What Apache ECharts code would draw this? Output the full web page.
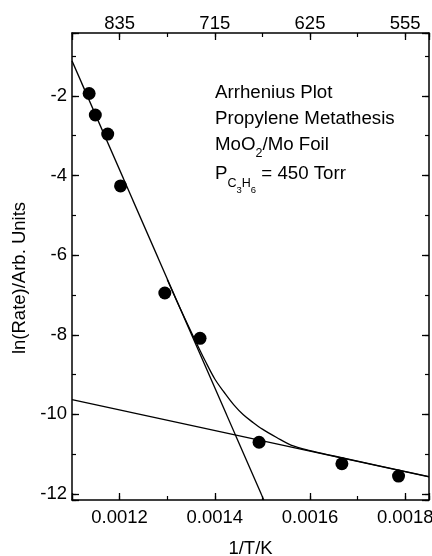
<!DOCTYPE html>
<html><head><meta charset="utf-8">
<script src="https://cdn.jsdelivr.net/npm/echarts@6/dist/echarts.min.js"></script>
<style>html,body{margin:0;padding:0;background:#fff}#c{width:432px;height:556px}</style>
</head><body><div id="c"></div>
<script>
// measured points
const invT = [0.001136, 0.001149, 0.001175, 0.001202, 0.001295, 0.001369, 0.001493, 0.001667, 0.001786];
const lnRate = [-1.94, -2.48, -2.96, -4.26, -6.95, -8.09, -10.70, -11.24, -11.55];
// fitted straight lines (endpoints)
const steepX = [0.0011, 0.001503];
const steepY = [-1.12, -12.15];
const shallowX = [0.0011, 0.00185];
const shallowY = [-9.63, -11.57];
// combined curve
const curveX = [0.0013, 0.00133, 0.00136, 0.00138, 0.0014, 0.00142, 0.00144, 0.00146, 0.00148, 0.0015, 0.00153, 0.00156, 0.0016, 0.00165, 0.00175, 0.00185];
const curveY = [-6.61, -7.41, -8.17, -8.66, -9.11, -9.45, -9.76, -10.01, -10.20, -10.37, -10.58, -10.77, -10.91, -11.045, -11.305, -11.565];
// tick labels
const xTickValues = [0.0012, 0.0014, 0.0016, 0.0018];
const xTickLabels = ['0.0012', '0.0014', '0.0016', '0.0018'];
const topTickLabels = ['835', '715', '625', '555'];
const yTickValues = [-12, -10, -8, -6, -4, -2];
const yTickLabels = ['-12', '-10', '-8', '-6', '-4', '-2'];

const FONT = 'Liberation Sans, Arial, sans-serif';
const X_MIN = 0.0011, X_MAX = 0.00185, Y_MIN = -12.15, Y_MAX = -0.42;

function lookup(vals, labels) {
  return function (v) {
    for (let i = 0; i < vals.length; i++) if (Math.abs(v - vals[i]) < 1e-9) return labels[i];
    return '';
  };
}
const lineBlack = { color: '#000', width: 1.5 };
function majorX(pos, labels, margin, extra) {
  return Object.assign({
    type: 'value', position: pos, min: X_MIN, max: X_MAX, minInterval: 0.0002, maxInterval: 0.0002,
    axisLine: { show: true, onZero: false, lineStyle: lineBlack },
    axisTick: { show: true, inside: true, length: 7, lineStyle: { color: '#000', width: 1.3 } },
    axisLabel: { show: true, margin: margin, color: '#000', fontSize: 18.5, fontFamily: FONT, formatter: lookup(xTickValues, labels) },
    splitLine: { show: false }
  }, extra || {});
}
function minorX(pos) {
  return {
    type: 'value', position: pos, min: X_MIN, max: X_MAX, minInterval: 0.0001, maxInterval: 0.0001,
    axisLine: { show: false, onZero: false },
    axisTick: { show: true, inside: true, length: 4, lineStyle: { color: '#000', width: 1.2 } },
    axisLabel: { show: false }, splitLine: { show: false }
  };
}
function majorY(pos, showLabel, extra) {
  return Object.assign({
    type: 'value', position: pos, min: Y_MIN, max: Y_MAX, minInterval: 2, maxInterval: 2,
    axisLine: { show: true, onZero: false, lineStyle: lineBlack },
    axisTick: { show: true, inside: true, length: 7, lineStyle: { color: '#000', width: 1.3 } },
    axisLabel: { show: showLabel, margin: 5, color: '#000', fontSize: 18.5, fontFamily: FONT, formatter: lookup(yTickValues, yTickLabels) },
    splitLine: { show: false }
  }, extra || {});
}
function minorY(pos) {
  return {
    type: 'value', position: pos, min: Y_MIN, max: Y_MAX, minInterval: 1, maxInterval: 1,
    axisLine: { show: false, onZero: false },
    axisTick: { show: true, inside: true, length: 4, lineStyle: { color: '#000', width: 1.2 } },
    axisLabel: { show: false }, splitLine: { show: false }
  };
}
const nameStyle = { color: '#000', fontSize: 18.5, fontFamily: FONT };

const chart = echarts.init(document.getElementById('c'), null, { renderer: 'canvas' });
const zipXY = (xs, ys) => xs.map((x, i) => [x, ys[i]]);

const n = { fill: '#000', fontSize: 18.7, fontFamily: FONT, verticalAlign: 'top' };
const s = { fill: '#000', fontSize: 12.5, fontFamily: FONT, verticalAlign: 'top', padding: [12.6, 0, 0, 0] };
const s2 = { fill: '#000', fontSize: 12.5, fontFamily: FONT, verticalAlign: 'top', padding: [12.9, 0, 0, 0] };
const ss = { fill: '#000', fontSize: 9.5, fontFamily: FONT, verticalAlign: 'top', padding: [21, 0, 0, 0] };
function label(text, y) {
  return { type: 'text', x: 215, y: y, z: 100, style: { text: text, fill: '#000', font: '18.7px ' + FONT, verticalAlign: 'top', align: 'left', rich: { n: n, s: s, s2: s2, ss: ss } } };
}

chart.setOption({
  animation: false,
  backgroundColor: '#fff',
  grid: { left: 72, right: 3, top: 33, bottom: 56, containLabel: false, outerBoundsMode: 'none' },
  xAxis: [
    majorX('bottom', xTickLabels, 8, { name: '1/T/K', nameLocation: 'middle', nameGap: 39, nameTextStyle: nameStyle }),
    minorX('bottom'),
    majorX('top', topTickLabels, 0),
    minorX('top')
  ],
  yAxis: [
    majorY('left', true, { name: 'ln(Rate)/Arb. Units', nameLocation: 'middle', nameGap: 32, nameTextStyle: Object.assign({ padding: [0, 23, 0, 0] }, nameStyle) }),
    minorY('left'),
    majorY('right', false),
    minorY('right')
  ],
  series: [
    { type: 'line', xAxisIndex: 0, yAxisIndex: 0, data: zipXY(steepX, steepY), showSymbol: false, symbol: 'none', lineStyle: { color: '#000', width: 1.3 }, z: 2 },
    { type: 'line', xAxisIndex: 0, yAxisIndex: 0, data: zipXY(shallowX, shallowY), showSymbol: false, symbol: 'none', lineStyle: { color: '#000', width: 1.3 }, z: 2 },
    { type: 'line', xAxisIndex: 0, yAxisIndex: 0, data: zipXY(curveX, curveY), smooth: 0.35, showSymbol: false, symbol: 'none', lineStyle: { color: '#000', width: 1.3 }, z: 2 },
    { type: 'scatter', xAxisIndex: 0, yAxisIndex: 0, data: zipXY(invT, lnRate), symbol: 'circle', symbolSize: 13, itemStyle: { color: '#000', opacity: 1 }, z: 3 }
  ],
  graphic: [
    label('{n|Arrhenius Plot}', 83.2),
    label('{n|Propylene Metathesis}', 109.2),
    label('{n|MoO}{s|2}{n|/Mo Foil}', 134.9),
    label('{n|P}{s|C}{ss|3}{s2|H}{ss|6}{n| = 450 Torr}', 164.2)
  ]
});
</script></body></html>
